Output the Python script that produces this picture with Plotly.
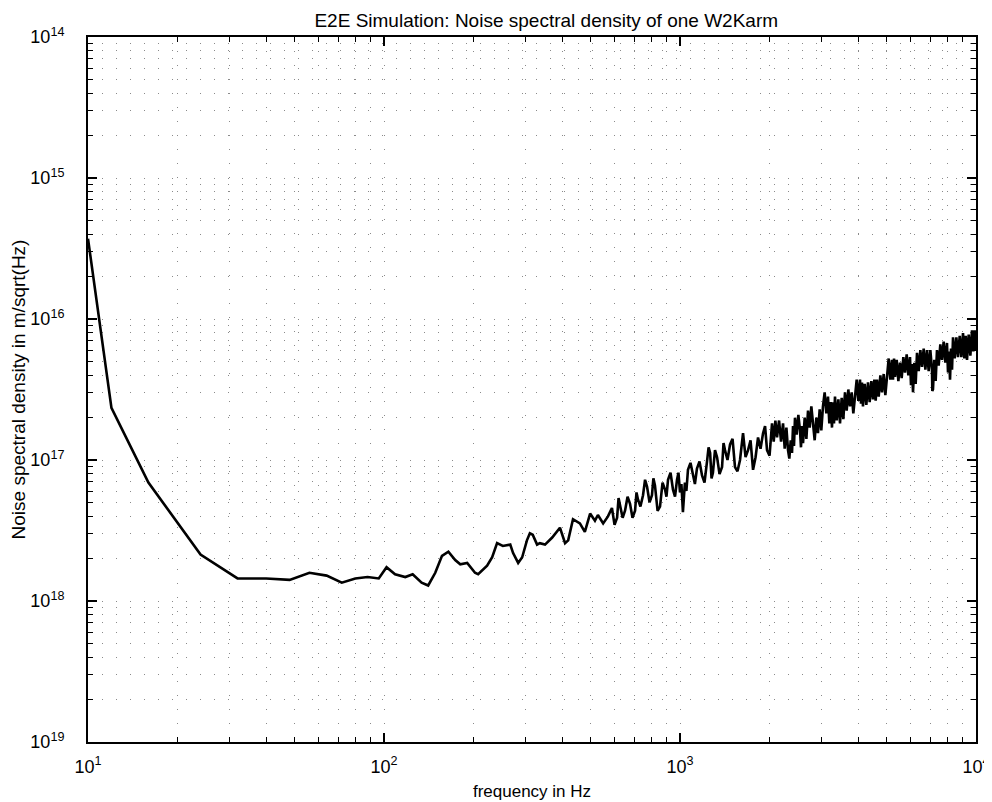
import plotly.graph_objects as go

# frequency in Hz
freq = [10, 12, 16, 20, 24, 32, 40, 48, 56, 64, 72, 80, 88, 96,
        102, 109, 118, 125, 134, 141, 149, 157, 165, 174, 181, 191, 203, 208, 223, 232,
        241, 252, 267, 273, 284, 293, 304, 311, 318, 329, 336, 350, 370, 393, 409, 419, 435,
        459, 477, 497, 516, 528, 550, 571, 589,
        601, 613, 620, 627, 640, 652, 665, 678, 691, 705, 713, 721, 735, 750, 762, 774,
        789, 804, 813, 823, 840, 856, 873, 890, 900, 911, 929, 947, 962, 977, 988, 1000,
        1011, 1023, 1031, 1039, 1051, 1064, 1085, 1106, 1123, 1141, 1164, 1187, 1210, 1234,
        1249, 1264, 1278, 1292, 1313, 1334, 1360, 1387, 1403, 1419, 1447, 1476, 1505, 1534,
        1564, 1595, 1614, 1633, 1665, 1698, 1731, 1765, 1800, 1835, 1871, 1908, 1938, 1968,
        2007, 2046, 2073, 2100, 2127, 2161, 2195, 2229, 2258, 2288, 2317, 2341, 2366, 2390,
        2409, 2427, 2446, 2478, 2511, 2543, 2563, 2584, 2604, 2638, 2673, 2707, 2743, 2778,
        2814, 2851, 2888, 2925, 2964, 3002, 3041, 3081, 3122, 3162, 3195, 3229, 3262, 3288,
        3313, 3339, 3383, 3428, 3472, 3518, 3563, 3609, 3657, 3704, 3752, 3802, 3851, 3901,
        3953, 4004, 4056, 4088, 4119, 4151, 4206, 4261, 4316, 4373, 4430, 4487, 4535, 4582,
        4630, 4691, 4752, 4813, 4877, 4940, 5004, 5070, 5136, 5202, 5243, 5285, 5326, 5396,
        5467, 5537, 5610, 5683, 5756, 5832, 5908, 5984, 6031, 6079, 6126, 6191, 6255, 6320,
        6403, 6487, 6570, 6657, 6744, 6831, 6921, 7011, 7101, 7119, 7138, 7156, 7231, 7307,
        7382, 7480, 7577, 7675, 7776, 7877, 7979, 8043, 8106, 8170, 8234, 8298, 8363, 8474,
        8584, 8695, 8810, 8924, 9039, 9134, 9230, 9325, 9448, 9571, 9694, 9796, 9898, 10000]

# log10 of the noise spectral density in m/sqrt(Hz)
log_density = [-15.43, -16.63, -17.16, -17.44, -17.67, -17.84, -17.84, -17.85, -17.80, -17.82,
               -17.87, -17.84, -17.83, -17.84,
               -17.76, -17.81, -17.83, -17.81, -17.87, -17.89, -17.80, -17.68, -17.65, -17.71,
               -17.74, -17.73, -17.80, -17.81, -17.75, -17.69,
               -17.59, -17.61, -17.60, -17.66, -17.73, -17.69, -17.57, -17.52, -17.53, -17.60,
               -17.59, -17.60, -17.55, -17.48, -17.59, -17.57, -17.42,
               -17.45, -17.51, -17.38, -17.43, -17.39, -17.45, -17.40, -17.34,
               -17.46, -17.41, -17.27, -17.32, -17.41, -17.36, -17.26, -17.31, -17.41, -17.36,
               -17.23, -17.28, -17.33, -17.25, -17.14, -17.19,
               -17.30, -17.25, -17.13, -17.18, -17.36, -17.33, -17.16, -17.21, -17.26, -17.14,
               -17.09, -17.21, -17.26, -17.14, -17.09, -17.23,
               -17.17, -17.37, -17.24, -17.16, -17.22, -17.07, -17.02, -17.12, -17.17, -17.06,
               -17.01, -17.11, -17.16, -17.01,
               -16.91, -16.95, -17.13, -17.09, -16.93, -16.98, -17.10, -17.05, -16.88, -16.93,
               -17.00, -16.89, -16.85, -17.05,
               -17.08, -17.00, -16.92, -16.81, -16.98, -16.93, -16.86, -17.07, -16.98, -16.84,
               -16.92, -16.81, -16.76, -16.93,
               -16.97, -16.74, -16.87, -16.72, -16.84, -16.72, -16.87, -16.74, -16.92, -16.77,
               -16.93, -16.99, -16.86, -16.95,
               -16.76, -16.90, -16.70, -16.82, -16.68, -16.79, -16.91, -16.76, -16.88, -16.70,
               -16.85, -16.65, -16.77, -16.62,
               -16.74, -16.86, -16.70, -16.81, -16.64, -16.79, -16.62, -16.52, -16.67, -16.55,
               -16.74, -16.59, -16.77, -16.59,
               -16.74, -16.55, -16.72, -16.57, -16.74, -16.56, -16.71, -16.52, -16.65, -16.50,
               -16.62, -16.52, -16.67, -16.57,
               -16.43, -16.58, -16.43, -16.60, -16.45, -16.62, -16.46, -16.61, -16.45, -16.59,
               -16.44, -16.57, -16.43, -16.58,
               -16.43, -16.55, -16.40, -16.52, -16.39, -16.54, -16.41, -16.28, -16.43, -16.29,
               -16.43, -16.28, -16.41, -16.29,
               -16.44, -16.31, -16.42, -16.27, -16.38, -16.25, -16.40, -16.27, -16.47, -16.32,
               -16.52, -16.31, -16.46, -16.24,
               -16.37, -16.22, -16.34, -16.21, -16.36, -16.22, -16.37, -16.22, -16.36, -16.51,
               -16.36, -16.50, -16.29, -16.44,
               -16.22, -16.33, -16.18, -16.29, -16.16, -16.31, -16.17, -16.38, -16.23, -16.43,
               -16.21, -16.36, -16.13, -16.28,
               -16.13, -16.27, -16.12, -16.27, -16.10, -16.28, -16.12, -16.29, -16.11, -16.26,
               -16.08, -16.23, -16.08, -16.22]

density = [10 ** v for v in log_density]

x_major = [10, 100, 1000, 10000]
x_major_text = ["10<sup>1</sup>", "10<sup>2</sup>", "10<sup>3</sup>", "10<sup>4</sup>"]
x_minor = [m * d for d in [10, 100, 1000] for m in range(2, 10)]

y_major = [1e-19, 1e-18, 1e-17, 1e-16, 1e-15, 1e-14]
y_major_text = ["10<sup>19</sup>", "10<sup>18</sup>", "10<sup>17</sup>",
                "10<sup>16</sup>", "10<sup>15</sup>", "10<sup>14</sup>"]
y_minor = [m * d for d in [1e-19, 1e-18, 1e-17, 1e-16, 1e-15] for m in range(2, 10)]

fig = go.Figure()
fig.add_trace(go.Scatter(x=freq, y=density, mode="lines",
                         line=dict(color="black", width=2.6), showlegend=False))

font = dict(family="Liberation Sans, Arial, sans-serif", color="black")
grid = dict(gridcolor="#8a8a8a", gridwidth=1, griddash="1px,13px")

fig.update_layout(
    width=984, height=794,
    margin=dict(l=80, r=16, t=29, b=60),
    paper_bgcolor="white", plot_bgcolor="white",
    title=dict(text="E2E Simulation: Noise spectral density of one W2Karm",
               x=0.547, xanchor="center", y=0.993, yanchor="top",
               font=dict(size=19, **font)),
    font=dict(size=16, **font),
)
fig.update_xaxes(
    type="log", range=[1, 4], automargin=False,
    tickmode="array", tickvals=x_major, ticktext=x_major_text,
    ticks="inside", ticklen=9, tickwidth=1.5, tickcolor="black",
    showline=True, linecolor="black", linewidth=2, mirror="allticks",
    showgrid=True, **grid,
    minor=dict(tickmode="array", tickvals=x_minor, ticks="inside", ticklen=5,
               tickwidth=1.2, tickcolor="black", showgrid=True, **grid),
    tickfont=dict(size=18, **font), ticklabelstandoff=7,
    title=dict(text="frequency in Hz", font=dict(size=17, **font), standoff=10),
    zeroline=False,
)
fig.update_yaxes(
    type="log", range=[-19, -14], automargin=False,
    tickmode="array", tickvals=y_major, ticktext=y_major_text,
    ticks="inside", ticklen=9, tickwidth=1.5, tickcolor="black",
    showline=True, linecolor="black", linewidth=2, mirror="allticks",
    showgrid=True, **grid,
    minor=dict(tickmode="array", tickvals=y_minor, ticks="inside", ticklen=5,
               tickwidth=1.2, tickcolor="black", showgrid=True, **grid),
    tickfont=dict(size=18, **font), ticklabelstandoff=18,
    title=dict(text="Noise spectral density in m/sqrt(Hz)", font=dict(size=19, **font), standoff=4),
    zeroline=False,
)

fig.write_html("out.html")
